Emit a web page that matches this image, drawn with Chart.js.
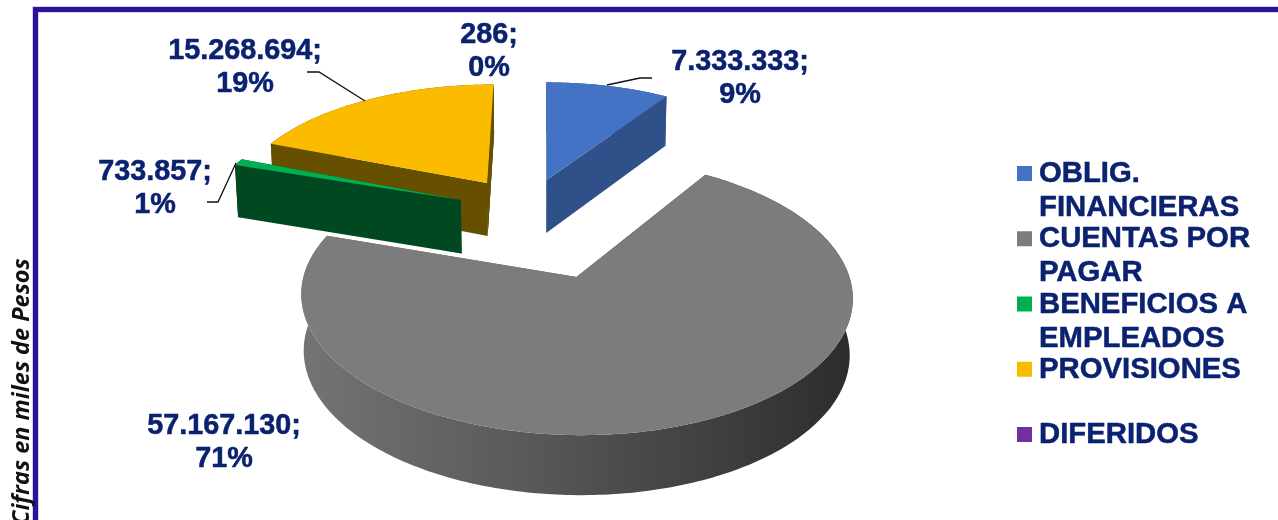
<!DOCTYPE html>
<html><head><meta charset="utf-8">
<style>html,body{margin:0;padding:0;background:#fff;overflow:hidden}#w{position:absolute;left:0;top:0;width:1278px;height:520px}</style>
<script src="https://cdn.jsdelivr.net/npm/chart.js@4"></script>
</head><body><div id="w"><canvas id="c" width="1278" height="520"></canvas></div>
<script>
// ---- data ----
const categories = ['OBLIG. FINANCIERAS','CUENTAS POR PAGAR','BENEFICIOS A EMPLEADOS','PROVISIONES','DIFERIDOS'];
const legendLines = [['OBLIG.','FINANCIERAS'],['CUENTAS POR','PAGAR'],['BENEFICIOS A','EMPLEADOS'],['PROVISIONES'],['DIFERIDOS']];
const values = [7333333,57167130,733857,15268694,286];
const axisNote = 'Cifras en miles de Pesos';
// ---- styles ----
const topColors  = ['#4472C4','#7C7C7C','#00B050','#FBBC00','#7030A0'];
const wallColors = ['#2F5088',null,'#004820','#665000','#665000'];
const labelColor = '#0B2270';
// slice explosion in pie-plane units (u right, v toward the viewer)
const sliceShift = [[.005,-.79],[.115,0],[-.335,-.615],[-.235,-.765],[-.235,-.765]];
const paintOrder = [4,3,0,1,2];
// perspective of the pie plane
const P = {cx:545, cy:277, R:273, B:136, k:.14, depth:56, depthSlope:4, shrink:.99};
function project(u,v,bottom){
  const w = 1 - P.k*v;
  return [P.cx + P.R*u*(bottom?P.shrink:1)/w, P.cy + P.B*v/w + (bottom?P.depth+P.depthSlope*v:0)];
}
function arcPts(el,shift,bottom){
  const a0 = el.startAngle+Math.PI/2, a1 = el.endAngle+Math.PI/2;
  const n = Math.max(1,Math.ceil((a1-a0)*60)), pts=[];
  for(let i=0;i<=n;i++){const t=a0+(a1-a0)*i/n; pts.push(project(shift[0]+Math.sin(t),shift[1]-Math.cos(t),bottom));}
  return pts;
}
function fillPoly(ctx,pts,style){
  ctx.beginPath(); pts.forEach((p,i)=>i?ctx.lineTo(p[0],p[1]):ctx.moveTo(p[0],p[1]));
  ctx.closePath(); ctx.fillStyle=style; ctx.fill();
}
const pie3d = {
  id:'pie3d',
  beforeDraw(chart){
    const ctx=chart.ctx;
    ctx.save();
    ctx.fillStyle='#fff'; ctx.fillRect(0,0,1278,520);
    ctx.fillStyle='#D6D0EA'; ctx.fillRect(32,6,1246,7); ctx.fillRect(32,6,7,514);
    ctx.fillStyle='#2E1199'; ctx.fillRect(33,7,1245,5); ctx.fillRect(33,7,5,513);
    ctx.translate(29,520); ctx.rotate(-Math.PI/2);
    ctx.font='italic 700 23.5px "Open Sans"'; ctx.fillStyle='#111'; ctx.textAlign='left'; ctx.textBaseline='alphabetic';
    ctx.fillText(axisNote,-5,0);
    ctx.restore();
  },
  beforeDatasetDraw(chart,args){
    const ctx=chart.ctx, arcs=chart.getDatasetMeta(args.index).data;
    ctx.save();
    paintOrder.forEach(i=>{
      const el=arcs[i], s=sliceShift[i];
      const top=arcPts(el,s,false), bot=arcPts(el,s,true);
      const aT=project(s[0],s[1],false), aB=project(s[0],s[1],true);
      let wall=wallColors[i];
      if(!wall){
        wall=ctx.createLinearGradient(300,0,854,0);
        wall.addColorStop(0,'#747474'); wall.addColorStop(.45,'#565656'); wall.addColorStop(1,'#2C2C2C');
      }
      fillPoly(ctx,[aT,top[0],bot[0],aB],wall);
      fillPoly(ctx,[aT,top[top.length-1],bot[bot.length-1],aB],wall);
      fillPoly(ctx,top.concat(bot.slice().reverse()),wall);
      fillPoly(ctx,[aT].concat(top),topColors[i]);
    });
    ctx.restore();
    return false;
  },
  afterDraw(chart){
    const ctx=chart.ctx, total=values.reduce((a,b)=>a+b,0);
    ctx.save();
    // leader lines
    ctx.strokeStyle='#111'; ctx.lineWidth=1.3;
    [[[607,85],[640,78],[652,78]],[[207,202],[218,202],[236,163]],[[307,72],[319,72],[365,101]]].forEach(l=>{
      ctx.beginPath(); l.forEach((p,i)=>i?ctx.lineTo(p[0],p[1]):ctx.moveTo(p[0],p[1])); ctx.stroke();
    });
    const put=(t,x,y)=>{ctx.fillText(t,x,y);ctx.strokeText(t,x,y);};
    // data labels
    ctx.fillStyle=labelColor; ctx.strokeStyle=labelColor; ctx.lineWidth=.5; ctx.lineJoin='round';
    ctx.font='bold 28.8px "Liberation Sans"'; ctx.textAlign='center'; ctx.textBaseline='alphabetic';
    const spots=[[740,70],[224,434],[155,180],[245,59],[489,43]];
    values.forEach((v,i)=>{
      const txt=String(v).replace(/\B(?=(\d{3})+$)/g,'.')+';';
      put(txt,spots[i][0],spots[i][1]);
      put(Math.round(v/total*100)+'%',spots[i][0],spots[i][1]+33);
    });
    // legend
    ctx.textAlign='left'; ctx.font='bold 29.3px "Liberation Sans"';
    legendLines.forEach((lines,i)=>{
      const y=182+i*65.25;
      ctx.fillStyle=topColors[i]; ctx.fillRect(1017,y-16,15,15);
      ctx.fillStyle=labelColor;
      lines.forEach((t,j)=>put(t,1039,y+j*34));
    });
    ctx.restore();
  }
};
new Chart(document.getElementById('c'),{
  type:'pie',
  data:{labels:categories,datasets:[{data:values,backgroundColor:topColors,borderWidth:0}]},
  options:{responsive:false,animation:false,plugins:{legend:{display:false},tooltip:{enabled:false}}},
  plugins:[pie3d]
});
</script></body></html>
